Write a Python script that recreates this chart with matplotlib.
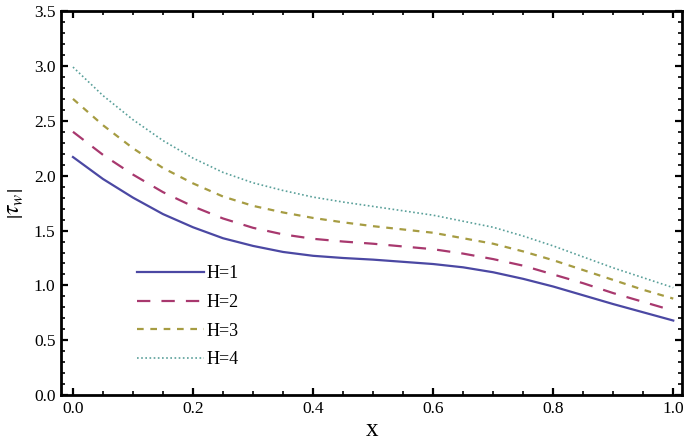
import numpy as np
import matplotlib.pyplot as plt
from matplotlib.ticker import MultipleLocator

x = np.linspace(0.0, 1.0, 21)

h1 = [2.17, 1.97, 1.80, 1.65, 1.53, 1.43, 1.36, 1.305, 1.27, 1.25, 1.235,
      1.215, 1.195, 1.165, 1.12, 1.06, 0.99, 0.91, 0.83, 0.755, 0.68]
h2 = [2.40, 2.19, 2.01, 1.85, 1.72, 1.61, 1.525, 1.465, 1.425, 1.40, 1.38,
      1.355, 1.33, 1.29, 1.24, 1.18, 1.10, 1.02, 0.93, 0.85, 0.77]
h3 = [2.70, 2.46, 2.25, 2.07, 1.93, 1.81, 1.725, 1.665, 1.615, 1.575, 1.54,
      1.51, 1.48, 1.43, 1.38, 1.31, 1.23, 1.14, 1.05, 0.96, 0.88]
h4 = [2.99, 2.73, 2.51, 2.32, 2.16, 2.03, 1.935, 1.865, 1.805, 1.76, 1.72,
      1.68, 1.64, 1.585, 1.53, 1.45, 1.36, 1.26, 1.16, 1.07, 0.98]

labels = ["H=1", "H=2", "H=3", "H=4"]

plt.rcParams['font.family'] = ['Liberation Serif', 'DejaVu Serif']
plt.rcParams['mathtext.fontset'] = 'stix'

fig = plt.figure(figsize=(6.85, 4.44), dpi=100)
ax = fig.add_axes([0.089, 0.110, 0.907, 0.865])

ax.plot(x, h1, color='#4b48a3', lw=1.6, ls='-', label=labels[0])
ax.plot(x, h2, color='#a8386e', lw=1.6, ls=(0, (6, 5)), label=labels[1])
ax.plot(x, h3, color='#a69c42', lw=1.6, ls=(0, (3, 3)), label=labels[2])
ax.plot(x, h4, color='#5aa09a', lw=1.2, ls=(0, (1, 1.5)), label=labels[3])

ax.set_xlim(-0.02, 1.015)
ax.set_ylim(0, 3.5)
ax.xaxis.set_major_locator(MultipleLocator(0.2))
ax.xaxis.set_minor_locator(MultipleLocator(0.05))
ax.yaxis.set_major_locator(MultipleLocator(0.5))
ax.yaxis.set_minor_locator(MultipleLocator(0.1))
ax.tick_params(which='both', direction='in', top=True, right=True,
               labelsize=12.5, pad=4)
ax.tick_params(which='major', length=5, width=1.6)
ax.tick_params(which='minor', length=3, width=1.2)
for sp in ax.spines.values():
	sp.set_linewidth(2.0)

ax.set_xlabel("x", fontsize=18, labelpad=2)
ax.set_ylabel(r"$\left|\tau_w\right|$", fontsize=17, labelpad=6)

ax.legend(loc='upper left', bbox_to_anchor=(0.097, 0.38), frameon=False,
          fontsize=13, handlelength=3.7, handletextpad=0.15,
          labelspacing=0.64)

fig.savefig("out.png", dpi=100)
